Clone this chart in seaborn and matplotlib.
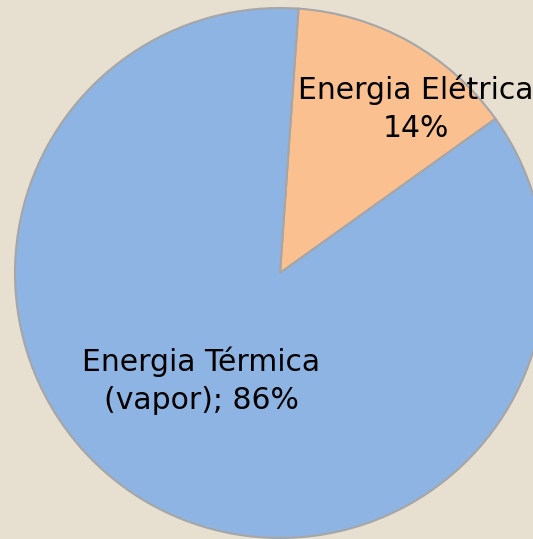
import matplotlib
matplotlib.use("Agg")
import matplotlib.pyplot as plt
import seaborn as sns

# data
labels = ["Energia Elétrica\n14%", "Energia Térmica\n(vapor); 86%"]
shares = [14, 86]
colors = ["#FAC090", "#8EB4E3"]

bg = "#E7E0D1"
sns.set_style("white", {"axes.facecolor": bg, "figure.facecolor": bg})
plt.rcParams["font.family"] = ["DejaVu Sans"]

fig = plt.figure(figsize=(5.33, 5.39), dpi=100)
ax = fig.add_axes([0, 0, 1, 1])

wedges, _ = ax.pie(shares, colors=colors, startangle=86, counterclock=False,
                   center=(280, 539 - 273), radius=265, frame=True,
                   wedgeprops=dict(edgecolor="#A6A6A6", linewidth=1.5))
ax.set_xlim(0, 533)
ax.set_ylim(0, 539)
ax.set_aspect("equal")
ax.axis("off")

# labels, placed in pixel coords like the original
ax.text(416, 539 - 109, labels[0], ha="center", va="center", fontsize=21.5,
        linespacing=1.4, color="black")
ax.text(201, 539 - 381, labels[1], ha="center", va="center", fontsize=21.5,
        linespacing=1.4, color="black")

fig.savefig("out.png", dpi=100, facecolor=bg)
